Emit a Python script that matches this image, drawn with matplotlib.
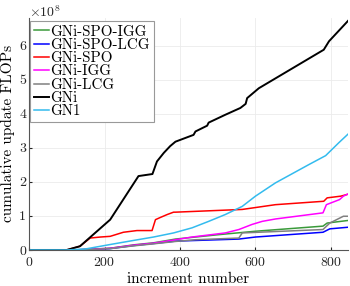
import numpy as np
import matplotlib
matplotlib.use("Agg")
import matplotlib.pyplot as plt

plt.rcParams['font.family'] = ['cmr10', 'DejaVu Serif']
plt.rcParams['mathtext.fontset'] = 'cm'
plt.rcParams['axes.formatter.use_mathtext'] = True

# cumulative update FLOPs (in 1e8) against increment number
gni_x = [0, 100, 135, 215, 290, 327, 339, 357, 374, 388, 436, 441, 472, 476, 520, 560, 574, 578, 609, 781, 795, 848]
gni_y = [0, 0, 0.11, 0.89, 2.17, 2.23, 2.6, 2.85, 3.05, 3.18, 3.38, 3.48, 3.65, 3.74, 3.97, 4.17, 4.29, 4.46, 4.75, 5.88, 6.13, 6.76]

spo_x = [0, 100, 135, 162, 189, 215, 250, 286, 326, 335, 347, 366, 383, 388, 565, 653, 781, 790, 826, 843]
spo_y = [0, 0, 0.11, 0.35, 0.38, 0.40, 0.52, 0.57, 0.57, 0.89, 0.95, 1.04, 1.11, 1.11, 1.19, 1.33, 1.43, 1.53, 1.58, 1.63]

gn1_x = [0, 100, 150, 215, 277, 330, 383, 432, 476, 520, 565, 600, 653, 742, 786, 821, 848]
gn1_y = [0, 0, 0.03, 0.16, 0.28, 0.38, 0.50, 0.65, 0.84, 1.04, 1.28, 1.58, 1.97, 2.51, 2.77, 3.15, 3.43]

igg_x = [0, 120, 215, 277, 330, 388, 432, 520, 556, 591, 618, 653, 779, 788, 823, 833, 846]
igg_y = [0, 0, 0.05, 0.14, 0.2, 0.3, 0.38, 0.5, 0.6, 0.75, 0.84, 0.91, 1.09, 1.33, 1.48, 1.58, 1.65]

spo_igg_x = [0, 120, 215, 277, 330, 388, 503, 600, 779, 790, 848]
spo_igg_y = [0, 0, 0.05, 0.15, 0.21, 0.32, 0.45, 0.55, 0.70, 0.79, 0.87]

spo_lcg_x = [0, 120, 215, 277, 330, 388, 556, 600, 779, 797, 848]
spo_lcg_y = [0, 0, 0.04, 0.13, 0.19, 0.26, 0.32, 0.38, 0.52, 0.62, 0.67]

lcg_x = [0, 120, 215, 277, 330, 388, 441, 556, 565, 779, 797, 815, 833, 848]
lcg_y = [0, 0, 0.04, 0.12, 0.18, 0.25, 0.3, 0.35, 0.5, 0.6, 0.79, 0.89, 0.99, 0.99]

series = [
    ("GNi-SPO-IGG", spo_igg_x, spo_igg_y, "#3a9a3a"),
    ("GNi-SPO-LCG", spo_lcg_x, spo_lcg_y, "#0000ff"),
    ("GNi-SPO", spo_x, spo_y, "#ff0000"),
    ("GNi-IGG", igg_x, igg_y, "#ff00ff"),
    ("GNi-LCG", lcg_x, lcg_y, "#808080"),
    ("GNi", gni_x, gni_y, "#000000"),
    ("GN1", gn1_x, gn1_y, "#33bbee"),
]

fig = plt.figure(figsize=(3.5, 2.86), dpi=100)
ax = fig.add_axes([0.083, 0.126, 0.911, 0.812])

for name, xs, ys, col in series:
    ax.plot(xs, np.array(ys) * 1e8, color=col, lw=1.4 if name == "GNi" else 1.1, label=name)

ax.set_xlim(0, 845)
ax.set_ylim(0, 6.82e8)
ax.set_xticks([0, 200, 400, 600, 800])
ax.set_yticks(np.arange(0, 7) * 1e8)
ax.grid(True, color='#ebebeb', lw=0.6)
ax.set_axisbelow(True)
for s in ['top', 'right']:
    ax.spines[s].set_visible(False)
for s in ['left', 'bottom']:
    ax.spines[s].set_color('#555555')
ax.tick_params(direction='in', length=2.5, labelsize=10, colors='#262626')
ax.tick_params(axis='x', pad=4)
ax.tick_params(axis='y', pad=2)
ax.yaxis.get_offset_text().set_visible(False)
ax.set_yticklabels([str(i) for i in range(7)])
fig.text(0.083, 0.985, r'$\times10^{8}$', fontsize=10, va='top', ha='left', color='#262626')

ax.set_xlabel("increment number", fontsize=11, labelpad=3)
ax.set_ylabel("cumulative update FLOPs", fontsize=11, labelpad=3)

leg = ax.legend(loc='upper left', bbox_to_anchor=(0.003, 0.985), fontsize=10.8,
                handlelength=1.0, handletextpad=0.12, borderpad=0.25,
                labelspacing=-0.03, borderaxespad=0, fancybox=False, framealpha=1)
leg.get_frame().set_edgecolor('#999999')
leg.get_frame().set_linewidth(0.8)

fig.savefig("out.png", dpi=100)
